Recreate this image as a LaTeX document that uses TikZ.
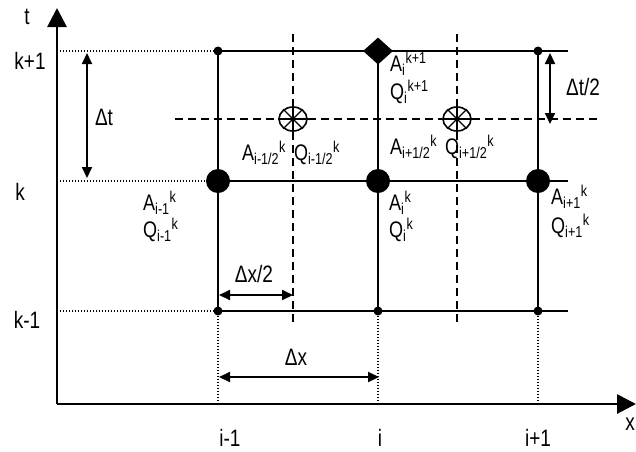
\documentclass[tikz,border=0pt]{standalone}
\usepackage{fontspec}
\usepackage{graphicx}
\setmainfont{Liberation Sans}
\usetikzlibrary{arrows.meta, shapes.geometric}
\tikzstyle{axis}     = [line width=2.8pt, -{Triangle[length=19pt,width=19pt]}]
\tikzstyle{gridline} = [line width=2.4pt]
\tikzstyle{guide}    = [line width=2.2pt, dash pattern=on 1.4pt off 1.6pt]
\tikzstyle{half}     = [line width=2.2pt, dash pattern=on 8pt off 5pt]
\tikzstyle{dim}      = [line width=2pt, {Triangle[length=11pt,width=10pt]}-{Triangle[length=11pt,width=10pt]}]
\newcommand{\vq}[3]{#1\textsubscript{#2}\textsuperscript{#3}}
\newcommand{\tall}[1]{\scalebox{1}[1.25]{#1}}

\begin{document}
\begin{tikzpicture}[x=1pt, y=-1pt, font=\fontsize{19}{22}\selectfont]
        \tikzstyle{bigdot}=[circle, fill=black, inner sep=0pt, minimum size=24pt]
        \tikzstyle{smalldot}=[circle, fill=black, inner sep=0pt, minimum size=9pt]
        \tikzstyle{newpt}=[diamond, fill=black, inner sep=0pt, minimum width=30pt, minimum height=27pt]
        \tikzstyle{halfpt}=[ellipse, draw, fill=white, line width=1.6pt, inner sep=0pt,
                            minimum width=28pt, minimum height=24pt]
        \tikzstyle{varlab}=[anchor=west, inner sep=0pt, font=\fontsize{18}{20}\selectfont]
        \useasboundingbox (0,0) rectangle (636,451);
        % axes
        \coordinate (orig) at (57,404);
        \coordinate (ttop) at (57,8);
        \coordinate (xend) at (636,404);
        \draw[axis] (orig) -- (ttop);
        \draw[axis] (orig) -- (xend);
        \node (tlab) at (27,17) {\tall{t}};
        \node (xlab) at (630,424) {\tall{x}};
        \node (kp1) at (30,61) {\tall{k+1}};
        \node (k0) at (20,192) {\tall{k}};
        \node (km1) at (27,320) {\tall{k-1}};
        \node (im1) at (230,438) {\tall{i-1}};
        \node (i0) at (380,438) {\tall{i}};
        \node (ip1) at (538,438) {\tall{i+1}};
        % grid points
        \node (a2) [smalldot] at (218,51) {};
        \node (b2) [newpt] at (378,51) {};
        \node (c2) [smalldot] at (538,51) {};
        \node (a1) [bigdot] at (218,181) {};
        \node (b1) [bigdot] at (378,181) {};
        \node (c1) [bigdot] at (538,181) {};
        \node (a0) [smalldot] at (218,311) {};
        \node (b0) [smalldot] at (378,311) {};
        \node (c0) [smalldot] at (538,311) {};
        \coordinate (e2) at (568,51);
        \coordinate (e1) at (568,181);
        \coordinate (e0) at (568,311);
        \draw[gridline] (a2.center) -- (b2.center) -- (c2.center) -- (e2);
        \draw[gridline] (a1.center) -- (b1.center) -- (c1.center) -- (e1);
        \draw[gridline] (a0.center) -- (b0.center) -- (c0.center) -- (e0);
        \draw[gridline] (a0.center) -- (a2.center);
        \draw[gridline] (b0.center) -- (b2.center);
        \draw[gridline] (c0.center) -- (c2.center);
        % dotted guides
        \coordinate (y2) at (57,51);
        \coordinate (y1) at (57,181);
        \coordinate (y0) at (57,311);
        \coordinate (xa) at (218,404);
        \coordinate (xb) at (378,404);
        \coordinate (xc) at (538,404);
        \draw[guide] (y2) -- (a2);
        \draw[guide] (y1) -- (a1);
        \draw[guide] (y0) -- (a0);
        \draw[guide] (a0) -- (xa);
        \draw[guide] (b0) -- (xb);
        \draw[guide] (c0) -- (xc);
        % half points
        \node (hl) [halfpt] at (293,119) {};
        \node (hr) [halfpt] at (457,119) {};
        \foreach \a in {0,45,...,315} {
            \draw[line width=1.3pt] (hl.center) -- (hl.\a);
            \draw[line width=1.3pt] (hr.center) -- (hr.\a);
        }
        \coordinate (h0) at (175,119);
        \coordinate (h1) at (597,119);
        \coordinate (vl0) at (293,34);
        \coordinate (vl1) at (293,326);
        \coordinate (vr0) at (457,34);
        \coordinate (vr1) at (457,326);
        \draw[half] (h0) -- (hl) -- (hr) -- (h1);
        \draw[half] (vl0) -- (hl) -- (vl1);
        \draw[half] (vr0) -- (hr) -- (vr1);
        % steps
        \coordinate (dt0) at (87,53);
        \coordinate (dt1) at (87,178);
        \draw[dim] (dt0) -- (dt1);
        \node (dtlab) at (104,117) {\tall{Δt}};
        \coordinate (dh0) at (550,53);
        \coordinate (dh1) at (550,124);
        \draw[dim] (dh0) -- (dh1);
        \node (dhlab) at (583,87) {\tall{Δt/2}};
        \coordinate (dxh0) at (219,295);
        \coordinate (dxh1) at (293,295);
        \draw[dim] (dxh0) -- (dxh1);
        \node (dxhlab) at (254,274) {\tall{Δx/2}};
        \coordinate (dx0) at (219,377);
        \coordinate (dx1) at (379,377);
        \draw[dim] (dx0) -- (dx1);
        \node (dxlab) at (296,357) {\tall{Δx}};
        % variables
        \node (anew) [varlab] at (390,64) {\tall{\vq{A}{i}{k+1}}};
        \node (qnew) [varlab] at (390,92) {\tall{\vq{Q}{i}{k+1}}};
        \node (hlv) [varlab] at (242,153) {\tall{\vq{A}{i-1/2}{k}\hspace{8pt}\vq{Q}{i-1/2}{k}}};
        \node (hrv) [varlab] at (390,147) {\tall{\vq{A}{i+1/2}{k}\hspace{8pt}\vq{Q}{i+1/2}{k}}};
        \node (aim1) [varlab] at (143,203) {\tall{\vq{A}{i-1}{k}}};
        \node (qim1) [varlab] at (143,230) {\tall{\vq{Q}{i-1}{k}}};
        \node (ai) [varlab] at (389,203) {\tall{\vq{A}{i}{k}}};
        \node (qi) [varlab] at (389,230) {\tall{\vq{Q}{i}{k}}};
        \node (aip1) [varlab] at (551,197) {\tall{\vq{A}{i+1}{k}}};
        \node (qip1) [varlab] at (551,226) {\tall{\vq{Q}{i+1}{k}}};
    \end{tikzpicture}
\end{document}
